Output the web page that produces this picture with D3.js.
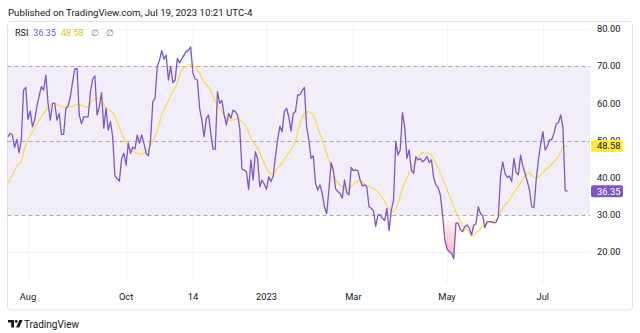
<!DOCTYPE html>
<html><head><meta charset="utf-8">
<script src="https://cdn.jsdelivr.net/npm/d3@7"></script>
<style>
html,body{margin:0;padding:0;background:#fff;}
svg{display:block;font-family:Roboto,"Liberation Sans",Arial,sans-serif;}
</style></head><body>
<svg id="chart" width="640" height="333"></svg>
<script>
// Daily RSI(14), one value per trading session, Jul 19 2022 .. Jul 19 2023
const rsiValues = [
 51.0, 52.0, 51.5, 48.2, 50.3, 46.7, 50.1, 63.5, 64.3, 55.7,
 58.0, 53.7, 55.6, 59.3, 62.0, 64.5, 63.6, 67.6, 60.0, 55.5,
 60.0, 60.0, 55.5, 57.3, 51.7, 51.7, 58.7, 59.3, 61.8, 65.8,
 69.2, 69.4, 56.9, 54.5, 56.4, 56.4, 56.4, 63.1, 66.5, 67.4,
 56.9, 59.1, 62.9, 53.3, 58.7, 52.8, 55.1, 51.0, 40.5, 39.8,
 39.1, 45.2, 46.6, 43.4, 49.3, 46.6, 48.2, 47.8, 51.5, 49.3,
 51.5, 49.3, 46.6, 45.9, 50.2, 60.5, 61.4, 69.9, 71.7, 74.2,
 71.9, 73.0, 66.3, 69.9, 65.6, 66.3, 72.1, 70.9, 72.0, 73.0,
 74.0, 74.4, 75.2, 68.1, 66.5, 66.3, 58.7, 55.5, 51.0, 56.0,
 56.9, 52.0, 47.7, 47.7, 63.1, 60.0, 60.8, 56.9, 54.2, 57.3,
 56.0, 58.2, 57.8, 56.9, 53.3, 42.3, 42.1, 41.6, 36.9, 44.8,
 39.4, 47.0, 45.2, 37.6, 39.4, 38.3, 36.9, 40.3, 39.0, 40.5,
 45.7, 50.2, 53.9, 52.4, 57.8, 58.7, 56.4, 52.6, 57.3, 57.8,
 62.3, 62.3, 63.4, 64.3, 53.7, 50.2, 45.2, 45.9, 38.5, 36.7,
 38.1, 35.8, 32.2, 30.4, 36.7, 44.1, 42.1, 37.0, 36.3, 35.8,
 34.5, 39.4, 36.0, 35.4, 42.8, 41.9, 42.1, 41.9, 39.4, 37.8,
 38.1, 37.6, 32.2, 31.8, 31.1, 26.9, 30.0, 30.0, 29.1, 28.5,
 31.8, 25.8, 31.3, 34.0, 49.7, 46.1, 47.5, 57.5, 53.7, 45.2,
 47.5, 42.1, 41.2, 45.7, 44.8, 45.2, 44.3, 44.8, 45.7, 44.1,
 44.8, 40.0, 38.1, 37.4, 35.4, 30.0, 23.3, 20.8, 20.1, 19.7,
 18.2, 27.8, 27.8, 26.0, 25.5, 26.9, 27.3, 26.4, 24.6, 27.3,
 27.6, 32.2, 30.4, 29.8, 26.6, 28.2, 28.2, 28.2, 27.9, 28.0,
 29.5, 40.5, 44.3, 41.2, 40.1, 40.5, 39.0, 45.2, 41.5, 40.8,
 46.1, 43.2, 41.2, 39.0, 36.7, 32.2, 32.0, 39.4, 44.8, 49.0,
 52.4, 47.5, 48.4, 50.2, 50.3, 52.0, 54.6, 54.8, 56.9, 53.5,
 36.6, 36.35
];

// RSI-based moving average, read at selected sessions
const maBars = [
 0, 2, 4, 6, 7, 9, 11, 13, 15, 17, 20, 21, 23, 26, 29, 31, 34, 36, 38, 41,
 44, 47, 49, 51, 53, 55, 58, 60, 62, 64, 67, 69, 71, 73, 76, 78, 80, 82, 84, 86,
 88, 91, 93, 95, 97, 99, 101, 103, 105, 107, 109, 112, 114, 116, 118, 119, 121, 123, 126, 129,
 131, 133, 135, 137, 139, 141, 143, 145, 147, 150, 152, 154, 156, 158, 160, 162, 165, 167, 169, 171,
 173, 175, 177, 180, 182, 184, 186, 188, 190, 192, 193, 195, 198, 200, 202, 204, 207, 208, 210, 213,
 215, 218, 220, 222, 225, 227, 230, 232, 234, 235, 237, 239, 241, 243, 245, 248, 249, 250, 251
];
const maValues = [
 38.5, 40.8, 43.2, 44.3, 47.0, 50.2, 52.4, 54.6, 56.4, 58.2, 60.0, 60.2, 59.3, 59.0, 59.1, 59.8, 59.3, 59.0, 60.9, 61.4,
 58.7, 57.6, 55.1, 52.0, 49.3, 47.8, 46.6, 46.4, 47.0, 48.8, 52.6, 56.9, 59.6, 62.0, 65.6, 69.0, 70.1, 70.6, 69.7, 68.1,
 65.8, 63.5, 60.5, 58.7, 56.8, 55.5, 55.5, 56.0, 55.1, 53.6, 50.6, 48.0, 45.2, 42.6, 41.0, 40.8, 42.6, 44.0, 46.8, 49.8,
 54.6, 57.3, 57.8, 56.8, 53.5, 50.2, 46.6, 43.0, 39.6, 37.6, 36.9, 37.6, 38.8, 39.3, 38.3, 37.8, 36.7, 35.4, 33.6, 31.8,
 30.9, 33.1, 37.2, 41.2, 43.4, 45.2, 46.7, 46.6, 46.0, 43.8, 42.6, 39.9, 35.3, 32.2, 29.5, 27.3, 25.4, 24.4, 25.1, 26.9,
 27.8, 28.2, 29.5, 31.8, 34.0, 36.0, 38.6, 40.5, 41.4, 40.6, 39.9, 40.8, 42.1, 43.0, 44.3, 46.9, 48.3, 48.5, 48.58
];

const tickBars = [9, 53, 83, 116, 155, 197, 240];
const tickLabels = ["Aug", "Oct", "14", "2023", "Mar", "May", "Jul"];
const priceTicks = [20, 30, 40, 50, 60, 70, 80];
const gridLevels = [20, 40, 60, 80];
const bandLevels = [70, 50, 30];
const lastRsi = 36.35;
const lastMa = 48.58;

const C = {
  text: "#131722",
  grid: "#f0f3fa",
  frame: "#e0e3eb",
  rsi: "#7e57c2",
  ma: "#fdd835",
  dash: "#a3a6af",
  band: "rgba(126,87,194,0.1)",
  os: "#f23645",
  ob: "#089981",
  muted: "#787b86"
};

const svg = d3.select("#chart");
const plot = { left: 7, right: 590, top: 22, bottom: 283 };

const x = d3.scaleLinear().domain([0, 251]).range([7.94, 567.4]);
const y = d3.scaleLinear().domain([11.7, 81.9]).range([plot.bottom, plot.top]);

const defs = svg.append("defs");
defs.append("clipPath").attr("id", "plotClip").append("rect")
  .attr("x", plot.left).attr("y", plot.top)
  .attr("width", plot.right - plot.left).attr("height", plot.bottom - plot.top);
defs.append("clipPath").attr("id", "belowClip").append("rect")
  .attr("x", plot.left).attr("y", y(30))
  .attr("width", plot.right - plot.left).attr("height", plot.bottom - y(30));
defs.append("clipPath").attr("id", "aboveClip").append("rect")
  .attr("x", plot.left).attr("y", plot.top)
  .attr("width", plot.right - plot.left).attr("height", y(70) - plot.top);

const osGrad = defs.append("linearGradient").attr("id", "osGrad")
  .attr("gradientUnits", "userSpaceOnUse")
  .attr("x1", 0).attr("x2", 0).attr("y1", y(30)).attr("y2", y(0));
osGrad.append("stop").attr("offset", 0).attr("stop-color", C.os).attr("stop-opacity", 0);
osGrad.append("stop").attr("offset", 1).attr("stop-color", C.os).attr("stop-opacity", 1);

const obGrad = defs.append("linearGradient").attr("id", "obGrad")
  .attr("gradientUnits", "userSpaceOnUse")
  .attr("x1", 0).attr("x2", 0).attr("y1", y(70)).attr("y2", y(100));
obGrad.append("stop").attr("offset", 0).attr("stop-color", C.ob).attr("stop-opacity", 0);
obGrad.append("stop").attr("offset", 1).attr("stop-color", C.ob).attr("stop-opacity", 1);

// header
svg.append("text").attr("x", 8).attr("y", 16)
  .attr("font-size", 9.7).attr("fill", C.text)
  .text("Published on TradingView.com, Jul 19, 2023 10:21 UTC-4");

// panel frame
svg.append("rect").attr("x", 7.5).attr("y", 21.5).attr("width", 625).attr("height", 288.5)
  .attr("rx", 3).attr("fill", "#fff").attr("stroke", C.frame);

// 30-70 band
svg.append("rect").attr("x", plot.left + 0.5).attr("y", y(70))
  .attr("width", plot.right - plot.left - 0.5).attr("height", y(30) - y(70))
  .attr("fill", C.band);

// grid
svg.append("g").selectAll("line").data(gridLevels).join("line")
  .attr("x1", plot.left + 0.5).attr("x2", plot.right)
  .attr("y1", d => Math.round(y(d)) + 0.5).attr("y2", d => Math.round(y(d)) + 0.5)
  .attr("stroke", C.grid);
svg.append("g").selectAll("line").data(tickBars).join("line")
  .attr("x1", d => Math.round(x(d)) + 0.5).attr("x2", d => Math.round(x(d)) + 0.5)
  .attr("y1", plot.top).attr("y2", plot.bottom)
  .attr("stroke", C.grid);

// dashed reference levels
svg.append("g").selectAll("line").data(bandLevels).join("line")
  .attr("x1", plot.left + 0.5).attr("x2", plot.right)
  .attr("y1", d => Math.round(y(d)) + 0.5).attr("y2", d => Math.round(y(d)) + 0.5)
  .attr("stroke", C.dash).attr("stroke-dasharray", "4,3");

const series = rsiValues.map((v, i) => [i, v]);

// oversold / overbought gradient fills
svg.append("path").datum(series)
  .attr("clip-path", "url(#belowClip)")
  .attr("fill", "url(#osGrad)")
  .attr("d", d3.area().x(d => x(d[0])).y0(y(30)).y1(d => y(d[1])));
svg.append("path").datum(series)
  .attr("clip-path", "url(#aboveClip)")
  .attr("fill", "url(#obGrad)")
  .attr("d", d3.area().x(d => x(d[0])).y0(y(70)).y1(d => y(d[1])));

// moving average
const maSeries = maBars.map((b, i) => [b, maValues[i]]);
svg.append("path").datum(maSeries)
  .attr("clip-path", "url(#plotClip)")
  .attr("fill", "none").attr("stroke", C.ma).attr("stroke-width", 1.1)
  .attr("d", d3.line().curve(d3.curveMonotoneX).x(d => x(d[0])).y(d => y(d[1])));

// RSI
svg.append("path").datum(series)
  .attr("clip-path", "url(#plotClip)")
  .attr("fill", "none").attr("stroke", C.rsi).attr("stroke-width", 1.3)
  .attr("stroke-linejoin", "round")
  .attr("d", d3.line().x(d => x(d[0])).y(d => y(d[1])));

// price scale
const pAxis = svg.append("g");
pAxis.selectAll("text").data(priceTicks).join("text")
  .attr("x", 597).attr("y", d => y(d)).attr("dy", "0.35em")
  .attr("font-size", 9.3).attr("fill", C.text)
  .text(d => d.toFixed(2));

// last-value badges
const badges = [
  { v: lastMa, bg: "#ffeb3b", fg: C.text },
  { v: lastRsi, bg: C.rsi, fg: "#fff" }
];
const bg = svg.append("g").selectAll("g").data(badges).join("g");
bg.append("rect").attr("x", 591).attr("y", d => y(d.v) - 6).attr("width", 32).attr("height", 12)
  .attr("rx", 2).attr("fill", d => d.bg);
bg.append("text").attr("x", 597).attr("y", d => y(d.v)).attr("dy", "0.35em")
  .attr("font-size", 9.3).attr("fill", d => d.fg).text(d => d.v.toFixed(2));

// time scale
svg.append("g").selectAll("text").data(tickBars).join("text")
  .attr("x", d => x(d)).attr("y", 297).attr("dy", "0.35em")
  .attr("text-anchor", "middle").attr("font-size", 9.3).attr("fill", C.text)
  .text((d, i) => tickLabels[i]);

// legend
const lg = svg.append("text").attr("x", 15).attr("y", 33).attr("dy", "0.35em").attr("font-size", 9);
lg.append("tspan").attr("fill", C.text).text("RSI");
lg.append("tspan").attr("dx", 5).attr("fill", C.rsi).text(lastRsi.toFixed(2));
lg.append("tspan").attr("dx", 5).attr("fill", "#e6c619").text(lastMa.toFixed(2));
lg.append("tspan").attr("dx", 7).attr("fill", C.muted).text("∅");
lg.append("tspan").attr("dx", 7).attr("fill", C.muted).text("∅");

// footer mark
const logo = svg.append("g").attr("transform", "translate(8,320)").attr("fill", C.text);
logo.append("path").attr("d", "M0 0H6V7.5H3.2V2.6H0Z");
logo.append("circle").attr("cx", 8.2).attr("cy", 1.4).attr("r", 1.4);
logo.append("path").attr("d", "M11.5 0H14.6L11.2 7.5H8.1Z");
svg.append("text").attr("x", 24).attr("y", 324).attr("dy", "0.35em")
  .attr("font-size", 10).attr("fill", C.text).text("TradingView");
</script>
</body></html>
